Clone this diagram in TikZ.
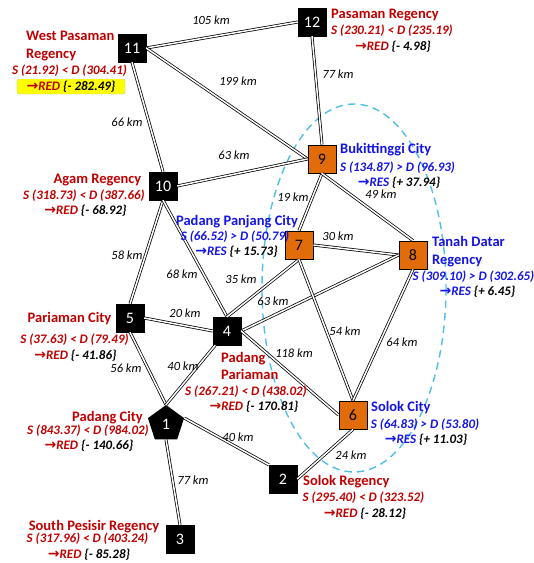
\documentclass[tikz,border=0pt]{standalone}
\usepackage{fontspec}
\setmainfont{Carlito}
\newfontfamily\arrowfont{DejaVu Sans}
\usetikzlibrary{shapes.geometric}

\definecolor{redtxt}{RGB}{192,0,0}
\definecolor{bluetxt}{RGB}{20,20,230}
\definecolor{cityorange}{RGB}{227,108,10}
\definecolor{zone}{RGB}{80,190,232}
\definecolor{hilite}{RGB}{255,255,0}

% arrow that precedes RED / RES
\newcommand{\flowarrow}{{\arrowfont\bfseries\fontsize{14}{14}\selectfont →}}
\newcommand{\gap}[1]{{\color{black}\{#1\}}}

\tikzset{
  box/.style={draw=black, minimum size=28pt, inner sep=0pt,
              font=\fontsize{16}{16}\selectfont},
  blackbox/.style={box, fill=black, text=white},
  orangebox/.style={box, fill=cityorange, text=black, line width=0.9pt},
  road/.style={draw=black, line width=0.75pt, double=white, double distance=1.5pt},
  km/.style={font=\fontsize{12.5}{13}\selectfont\itshape, inner sep=0pt},
  place/.style={font=\fontsize{14.5}{18}\selectfont\bfseries, inner sep=0pt},
  stat/.style={font=\fontsize{13}{14}\selectfont\bfseries\itshape, inner sep=0pt},
  redplace/.style={place, text=redtxt},
  blueplace/.style={place, text=bluetxt},
  redstat/.style={stat, text=redtxt},
  bluestat/.style={stat, text=bluetxt},
}

\begin{document}
\begin{tikzpicture}[x=1pt, y=-1pt]
\useasboundingbox (0,0) rectangle (534,563);

% service zone around the surplus cities
\draw[zone, line width=1.4pt, dash pattern=on 7.5pt off 5pt] (354,288) ellipse [x radius=92, y radius=184];

% cities and regencies
\node[blackbox] (n11) at (132,48) {11};
\node[blackbox] (n12) at (312,22) {12};
\node[blackbox] (n10) at (163,186) {10};
\node[orangebox] (n9) at (322,159) {9};
\node[orangebox] (n7) at (299,245) {7};
\node[orangebox] (n8) at (413,255) {8};
\node[blackbox] (n5) at (130,318) {5};
\node[blackbox] (n4) at (227,331) {4};
\node[orangebox] (n6) at (353,415) {6};
\node[regular polygon, regular polygon sides=5, minimum size=38pt, inner sep=0pt,
      fill=black, text=white, font=\fontsize{16}{16}\selectfont] (n1) at (166,424) {1};
\node[blackbox] (n2) at (283,479) {2};
\node[blackbox] (n3) at (180,539) {3};

% road links
\draw[road] (n11.east) -- (n12.west);
\draw[road] (n11.east) -- (n9.west);
\draw[road] (n11.south) -- (n10.north);
\draw[road] (n12.south) -- (n9.north);
\draw[road] (n10.east) -- (n9.west);
\draw[road] (n10.south) -- (n5.north);
\draw[road] (n10.south) -- (n4.north);
\draw[road] (n9.south) -- (n7.north);
\draw[road] (n9.south) -- (n8.north);
\draw[road] (n7.east) -- (n8.west);
\draw[road] (n7.south) -- (n4.north);
\draw[road] (n8.west) -- (n4.east);
\draw[road] (n7.south) -- (n6.north);
\draw[road] (n8.south) -- (n6.north);
\draw[road] (n5.east) -- (n4.west);
\draw[road] (n4.east) -- (n6.west);
\draw[road] (n5.south) -- (n1.corner 1);
\draw[road] (n4) -- (n1.corner 1);
\draw[road] (n1.corner 5) -- (n2.north west);
\draw[road] (n1.south) -- (n3.north);
\draw[road] (n6.south) -- (n2.east);

% distances
\node[km] (d1112) at (211,20) {105 km};
\node[km] (d1109) at (238,81) {199 km};
\node[km] (d1209) at (338,74) {77 km};
\node[km] (d1110) at (127,122) {66 km};
\node[km] (d1009) at (234,155) {63 km};
\node[km] (d0907) at (293,197) {19 km};
\node[km] (d0908) at (381,194) {49 km};
\node[km] (d1005) at (127,255) {58 km};
\node[km] (d1004) at (182,274) {68 km};
\node[km] (d0704) at (241,279) {35 km};
\node[km] (d0504) at (185,313) {20 km};
\node[km] (d0708) at (338,236) {30 km};
\node[km] (d0804) at (273,301) {63 km};
\node[km] (d0706) at (345,331) {54 km};
\node[km] (d0806) at (402,342) {64 km};
\node[km] (d0406) at (294,353) {118 km};
\node[km] (d0501) at (126,368) {56 km};
\node[km] (d0401) at (183,366) {40 km};
\node[km] (d0102) at (238,437) {40 km};
\node[km] (d0103) at (193,480) {77 km};
\node[km] (d0602) at (351,455) {24 km};

% 11 West Pasaman Regency
\node[redplace, align=left, anchor=west] (l11a) at (26,46) {West Pasaman\\Regency};
\node[redstat] (l11b) at (69.5,71) {S (21.92) < D (304.41)};
\node[fill=hilite, draw=black!25, line width=0.4pt, rounded corners=2pt,
      minimum width=108pt, minimum height=15pt, inner sep=0pt] (h11) at (71,86.5) {};
\node[redstat] (l11c) at (71,87) {\flowarrow RED \gap{- 282.49}};

% 12 Pasaman Regency
\node[redplace, anchor=west] (l12a) at (331,15) {Pasaman Regency};
\node[redstat] (l12b) at (392,31) {S (230.21) < D (235.19)};
\node[redstat] (l12c) at (393,47) {\flowarrow RED \gap{- 4.98}};

% 10 Agam Regency
\node[redplace] (l10a) at (97.5,180) {Agam Regency};
\node[redstat] (l10b) at (84,196) {S (318.73) < D (387.66)};
\node[redstat] (l10c) at (85.5,211) {\flowarrow RED \gap{- 68.92}};

% 9 Bukittinggi City
\node[blueplace, anchor=west] (l9a) at (340,150) {Bukittinggi City};
\node[bluestat] (l9b) at (397.5,168) {S (134.87) > D (96.93)};
\node[bluestat] (l9c) at (399,183) {\flowarrow RES \gap{+ 37.94}};

% 7 Padang Panjang City
\node[blueplace] (l7a) at (237,222) {Padang Panjang City};
\node[bluestat] (l7b) at (235,237) {S (66.52) > D (50.79)};
\node[bluestat] (l7c) at (236.5,252) {\flowarrow RES \gap{+ 15.73}};

% 8 Tanah Datar Regency
\node[blueplace, align=left, anchor=west] (l8a) at (432,252) {Tanah Datar\\Regency};
\node[bluestat] (l8b) at (473.5,277) {S (309.10) > D (302.65)};
\node[bluestat] (l8c) at (477.5,292) {\flowarrow RES \gap{+ 6.45}};

% 5 Pariaman City
\node[redplace] (l5a) at (69.5,319) {Pariaman City};
\node[redstat] (l5b) at (74.5,340) {S (37.63) < D (79.49)};
\node[redstat] (l5c) at (75.5,356) {\flowarrow RED \gap{- 41.86}};

% 4 Padang Pariaman
\node[redplace, align=left, anchor=west, font=\fontsize{14.5}{17}\selectfont\bfseries] (l4a) at (221,365.5) {Padang\\Pariaman};
\node[redstat] (l4b) at (246,392) {S (267.21) < D (438.02)};
\node[redstat] (l4c) at (254,407) {\flowarrow RED \gap{- 170.81}};

% 1 Padang City
\node[redplace] (l1a) at (107.5,418) {Padang City};
\node[redstat] (l1b) at (88,431) {S (843.37) < D (984.02)};
\node[redstat] (l1c) at (89,446) {\flowarrow RED \gap{- 140.66}};

% 6 Solok City
\node[blueplace, anchor=west] (l6a) at (371,408) {Solok City};
\node[bluestat] (l6b) at (425,425) {S (64.83) > D (53.80)};
\node[bluestat] (l6c) at (426,440) {\flowarrow RES \gap{+ 11.03}};

% 2 Solok Regency
\node[redplace, anchor=west] (l2a) at (303,482) {Solok Regency};
\node[redstat] (l2b) at (363.5,498) {S (295.40) < D (323.52)};
\node[redstat] (l2c) at (365,514) {\flowarrow RED \gap{- 28.12}};

% 3 South Pesisir Regency
\node[redplace] (l3a) at (94,527) {South Pesisir Regency};
\node[redstat] (l3b) at (87.5,539) {S (317.96) < D (403.24)};
\node[redstat] (l3c) at (89,555) {\flowarrow RED \gap{- 85.28}};

\end{tikzpicture}
\end{document}
